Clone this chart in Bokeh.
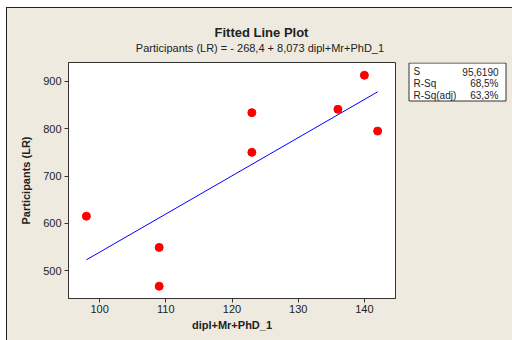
from bokeh.plotting import figure
from bokeh.models import Label, Range1d, FixedTicker, BoxAnnotation
from bokeh.layouts import column, row
from bokeh.embed import file_html
from bokeh.resources import INLINE

# data
x_vals = [98, 109, 109, 123, 123, 136, 140, 142]
y_vals = [615, 549, 467, 750, 834, 841, 913, 795]
intercept = -268.4
slope = 8.073
x_ticks = [100, 110, 120, 130, 140]
y_ticks = [500, 600, 700, 800, 900]
stat_names = ["S", "R-Sq", "R-Sq(adj)"]
stat_values = ["95,6190", "68,5%", "63,3%"]
title_text = "Fitted Line Plot"
subtitle_text = "Participants (LR) =  - 268,4 + 8,073 dipl+Mr+PhD_1"

BG = "#EEEAE0"
FONT = "Liberation Sans"
TXT = "#222222"


def blank_fig(w, h, **kw):
    f = figure(width=w, height=h, output_backend="svg", toolbar_location=None,
               x_axis_location=None, y_axis_location=None,
               x_range=Range1d(0, 1), y_range=Range1d(0, 1),
               border_fill_color=BG, background_fill_color=BG, **kw)
    f.title = None
    f.xgrid.visible = False
    f.ygrid.visible = False
    f.outline_line_color = None
    return f


# title strip
tf = blank_fig(505, 46, min_border=0)
tf.add_layout(Label(x=254, y=22, x_units="screen", y_units="screen", text=title_text,
                    text_font=FONT, text_font_size="13px", text_font_style="bold",
                    text_align="center", text_baseline="middle", text_color=TXT))
tf.add_layout(Label(x=254, y=7, x_units="screen", y_units="screen", text=subtitle_text,
                    text_font=FONT, text_font_size="11px",
                    text_align="center", text_baseline="middle", text_color=TXT))

# main plot
p = figure(width=400, height=286, output_backend="svg", toolbar_location=None,
           x_range=Range1d(95.3, 144.7), y_range=Range1d(441, 940),
           min_border_left=61, min_border_right=12, min_border_top=8, min_border_bottom=42,
           background_fill_color="white", border_fill_color=BG)
p.title = None
p.outline_line_color = "#333333"
p.outline_line_width = 1
p.xgrid.visible = False
p.ygrid.visible = False

for ax in (p.xaxis[0], p.yaxis[0]):
    ax.major_label_text_font = FONT
    ax.major_label_text_font_size = "11px"
    ax.major_label_text_color = TXT
    ax.axis_label_text_font = FONT
    ax.axis_label_text_font_size = "11px"
    ax.axis_label_text_font_style = "bold"
    ax.axis_label_text_color = TXT
    ax.minor_tick_line_color = None
    ax.major_tick_in = 0
    ax.major_tick_out = 4
    ax.major_tick_line_color = "#333333"
    ax.axis_line_color = "#333333"

p.xaxis.ticker = FixedTicker(ticks=x_ticks)
p.yaxis.ticker = FixedTicker(ticks=y_ticks)
p.xaxis.axis_label = "dipl+Mr+PhD_1"
p.yaxis.axis_label = "Participants (LR)"
p.xaxis.major_label_standoff = 2
p.xaxis.axis_label_standoff = 3
p.yaxis.major_label_standoff = 3
p.yaxis.axis_label_standoff = 8

# fitted line from the displayed equation
fx = [min(x_vals), max(x_vals)]
fy = [intercept + slope * v for v in fx]
p.line(fx, fy, line_color="#0000FF", line_width=1)
p.scatter(x_vals, y_vals, size=8, fill_color="#FF0000", line_color="#FF0000")

# stats box (right strip, same frame height as main plot)
sf = blank_fig(105, 286, min_border_left=0, min_border_right=0, min_border_top=8,
               min_border_bottom=42)
sf.add_layout(BoxAnnotation(left=1.5, right=98.5, top=235.5, bottom=197.5,
                            left_units="screen", right_units="screen",
                            top_units="screen", bottom_units="screen",
                            fill_color="white", fill_alpha=1, line_color="#333333",
                            line_alpha=1, line_width=1))
rows_y = [227, 215, 203]
for name, val, yy in zip(stat_names, stat_values, rows_y):
    sf.add_layout(Label(x=6, y=yy, x_units="screen", y_units="screen", text=name,
                        text_font=FONT, text_font_size="10px", text_align="left",
                        text_baseline="middle", text_color=TXT))
    sf.add_layout(Label(x=91, y=yy, x_units="screen", y_units="screen", text=val,
                        text_font=FONT, text_font_size="10px", text_align="right",
                        text_baseline="middle", text_color=TXT))

inner = row(p, sf, styles={"background-color": BG})
layout = column(tf, inner,
                styles={"border-left": "1px solid #222", "border-top": "1px solid #222",
                        "margin-left": "6px", "margin-top": "7px",
                        "background-color": BG})

open("out.html", "w").write(file_html(layout, INLINE))
